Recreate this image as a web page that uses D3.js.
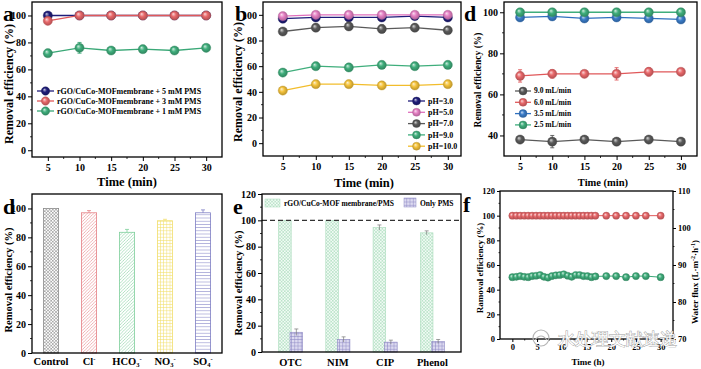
<!DOCTYPE html>
<html><head><meta charset="utf-8">
<script src="https://cdn.jsdelivr.net/npm/d3@7"></script>
<style>
body{margin:0;background:#fff}
svg{display:block}
text{font-family:"Liberation Serif","Times New Roman",serif;font-weight:bold}
</style>
</head><body>
<svg id="c" width="701" height="369"></svg>
<script>
// ---------- DATA ----------
const timeMin = [5, 10, 15, 20, 25, 30];
// panel a
const aNames = ["rGO/CuCo-MOFmembrane + 5 mM PMS", "rGO/CuCo-MOFmembrane + 3 mM PMS", "rGO/CuCo-MOFmembrane + 1 mM PMS"];
const a5mM = [100, 100, 100, 100, 100, 100];
const a3mM = [96, 100, 100, 100, 100, 100];
const a1mM = [72, 76, 74, 75, 74, 76];
const a1mMErr = [1, 4, 1, 1, 1, 1];
// panel b
const bNames = ["pH=3.0", "pH=5.0", "pH=7.0", "pH=9.0", "pH=10.0"];
const bPH3 = [97, 98, 98, 98, 99, 98];
const bPH5 = [99, 100, 100, 100, 100, 100];
const bPH7 = [87, 90, 91, 89, 90, 88];
const bPH7Err = [0.5, 1, 0.5, 3, 0.5, 0.5];
const bPH9 = [55, 60, 59, 61, 60, 61];
const bPH10 = [41, 46, 46, 45, 45, 46];
// panel d (top)
const cNames = ["9.0 mL/min", "6.0 mL/min", "3.5 mL/min", "2.5 mL/min"];
const c90 = [38, 37, 38, 37, 38, 37];
const c90Err = [1.5, 3, 1, 0.5, 1.5, 0.5];
const c60 = [69, 70, 70, 70, 71, 71];
const c60Err = [3, 2, 1.5, 3, 2, 1];
const c35 = [97.5, 98, 97, 97.5, 97, 96.5];
const c25 = [100, 100, 100, 100, 100, 100];
// panel d (bottom) bars
const ionCats = ["Control", "Cl-", "HCO3-", "NO3-", "SO4-"];
const ionVals = [100, 97, 83.5, 91.5, 97];
const ionErr = [0, 1.5, 2, 1, 2];
// panel e
const pollCats = ["OTC", "NIM", "CIP", "Phenol"];
const eNames = ["rGO/CuCo-MOF membrane/PMS", "Only PMS"];
const eMembrane = [100, 100, 94.5, 90.5];
const eMembraneErr = [0, 0, 2, 1.5];
const eOnly = [15, 9.5, 7.5, 8];
const eOnlyErr = [2.5, 2, 1.5, 1.5];
// panel f
const fTime = [0, 0.8, 1.6, 2.4, 3.2, 4, 4.8, 5.6, 6.4, 7.2, 8, 8.8, 9.6, 10.4, 11.2, 12, 12.8, 13.6, 14.4, 15.2, 16, 16.8, 19, 21, 23, 25, 27, 30];
const fRemoval = [100, 100, 100, 100, 100, 100, 100, 100, 100, 100, 100, 100, 100, 100, 100, 100, 100, 100, 100, 100, 100, 100, 100, 100, 100, 100, 100, 100];
const fFlux = [86.7, 86.8, 87.0, 86.8, 86.7, 87.0, 87.1, 87.3, 86.8, 86.6, 87.0, 87.2, 87.3, 87.5, 87.1, 86.8, 87.3, 87.3, 87.0, 87.0, 86.7, 86.9, 87.0, 87.0, 86.7, 87.0, 87.0, 86.7];
const watermark = "水处理文献速递";

// ---------- SETUP ----------
const svg = d3.select('#c');
const defs = svg.append('defs');
const FONT = '"Liberation Serif","Times New Roman",serif';

function ballGrad(id, color) {
  const g = defs.append('radialGradient').attr('id', id)
    .attr('cx', '50%').attr('cy', '50%').attr('r', '55%').attr('fx', '35%').attr('fy', '32%');
  g.append('stop').attr('offset', '0%').attr('stop-color', d3.interpolateRgb(color, '#fff')(0.75));
  g.append('stop').attr('offset', '45%').attr('stop-color', color);
  g.append('stop').attr('offset', '100%').attr('stop-color', d3.color(color).darker(0.9).formatHex());
  return 'url(#' + id + ')';
}

function pattern(id, color, kind, bg) {
  const s = 3.2;
  const p = defs.append('pattern').attr('id', id).attr('patternUnits', 'userSpaceOnUse')
    .attr('width', s).attr('height', s);
  p.append('rect').attr('width', s).attr('height', s).attr('fill', bg || '#fff');
  function ln(x1, y1, x2, y2) { p.append('line').attr('x1', x1).attr('y1', y1).attr('x2', x2).attr('y2', y2).attr('stroke', color).attr('stroke-width', 0.6); }
  if (kind === 'cross') { ln(0, 0, s, s); ln(0, s, s, 0); }
  if (kind === 'diag') { ln(0, s, s, 0); ln(-1, 1, 1, -1); ln(s - 1, s + 1, s + 1, s - 1); }
  if (kind === 'grid') { ln(0, 0.3, s, 0.3); ln(0.3, 0, 0.3, s); }
  if (kind === 'horiz') { ln(0, 0.3, s, 0.3); }
  return 'url(#' + id + ')';
}

function styleAxis(sel, fs) {
  sel.select('.domain').remove();
  sel.selectAll('line').attr('stroke', '#000').attr('stroke-width', 1);
  sel.selectAll('text').attr('font-size', fs).attr('font-family', FONT).attr('font-weight', 'bold').attr('fill', '#000');
}

function frame(L, R, T, B) {
  svg.append('rect').attr('x', L).attr('y', T).attr('width', R - L).attr('height', B - T)
    .attr('fill', 'none').attr('stroke', '#000').attr('stroke-width', 1.3);
}

function minorTicks(scale, vals, orient, pos, len) {
  const g = svg.append('g');
  vals.forEach(v => {
    const p = scale(v);
    if (orient === 'bottom') g.append('line').attr('x1', p).attr('x2', p).attr('y1', pos).attr('y2', pos + len);
    if (orient === 'left') g.append('line').attr('y1', p).attr('y2', p).attr('x1', pos).attr('x2', pos - len);
    if (orient === 'right') g.append('line').attr('y1', p).attr('y2', p).attr('x1', pos).attr('x2', pos + len);
  });
  g.selectAll('line').attr('stroke', '#000').attr('stroke-width', 0.8);
}

function midpoints(ticks) { const m = []; for (let i = 0; i < ticks.length - 1; i++) m.push((ticks[i] + ticks[i + 1]) / 2); return m; }

function yTitle(txt, x, y, fs) {
  svg.append('text').attr('transform', `translate(${x},${y}) rotate(-90)`).attr('text-anchor', 'middle')
    .attr('font-size', fs).attr('fill', '#000').text(txt);
}
function xTitle(txt, x, y, fs) {
  svg.append('text').attr('x', x).attr('y', y).attr('text-anchor', 'middle').attr('font-size', fs).attr('fill', '#000').text(txt);
}
function panelLetter(t, x, y) {
  svg.append('text').attr('x', x).attr('y', y).attr('font-size', 22).attr('fill', '#000').text(t);
}

function errBars(g, x, y, xs, vals, errs, color, cap) {
  xs.forEach((xv, i) => {
    const e = errs[i]; if (!e) return;
    const px = x(xv), y1 = y(vals[i] - e), y2 = y(vals[i] + e);
    g.append('line').attr('x1', px).attr('x2', px).attr('y1', y1).attr('y2', y2).attr('stroke', color).attr('stroke-width', 0.9);
    g.append('line').attr('x1', px - cap).attr('x2', px + cap).attr('y1', y1).attr('y2', y1).attr('stroke', color).attr('stroke-width', 0.9);
    g.append('line').attr('x1', px - cap).attr('x2', px + cap).attr('y1', y2).attr('y2', y2).attr('stroke', color).attr('stroke-width', 0.9);
  });
}

function linePanel(o) {
  const x = d3.scaleLinear().domain(o.xDomain).range([o.L, o.R]);
  const y = d3.scaleLinear().domain(o.yDomain).range([o.B, o.T]);
  svg.append('g').attr('transform', `translate(0,${o.B})`)
    .call(d3.axisBottom(x).tickValues(o.xTicks).tickSize(4).tickSizeOuter(0).tickPadding(3))
    .call(styleAxis, o.fs);
  svg.append('g').attr('transform', `translate(${o.L},0)`)
    .call(d3.axisLeft(y).tickValues(o.yTicks).tickSize(4).tickSizeOuter(0).tickPadding(2))
    .call(styleAxis, o.fs);
  minorTicks(x, midpoints(o.xTicks), 'bottom', o.B, 2);
  minorTicks(y, midpoints(o.yTicks), 'left', o.L, 2);
  frame(o.L, o.R, o.T, o.B);
  const g = svg.append('g');
  o.series.forEach((s, si) => {
    const fill = ballGrad(o.id + si, s.color);
    g.append('path').datum(s.values)
      .attr('d', d3.line().x((d, i) => x(o.xs[i])).y(d => y(d)))
      .attr('fill', 'none').attr('stroke', s.line || s.color).attr('stroke-width', 1.3);
    if (s.err) errBars(g, x, y, o.xs, s.values, s.err, s.line || s.color, 2);
    g.selectAll(null).data(s.values).enter().append('circle')
      .attr('cx', (d, i) => x(o.xs[i])).attr('cy', d => y(d)).attr('r', o.r)
      .attr('fill', fill).attr('stroke', d3.color(s.color).darker(0.5)).attr('stroke-width', 0.4);
    s.fillUrl = fill;
  });
  const lg = o.legend;
  o.series.forEach((ss, si) => {
    const yy = lg.y + si * lg.dy;
    svg.append('line').attr('x1', lg.x).attr('x2', lg.x + lg.len).attr('y1', yy).attr('y2', yy)
      .attr('stroke', ss.line || ss.color).attr('stroke-width', 1.3);
    svg.append('circle').attr('cx', lg.x + lg.len / 2).attr('cy', yy).attr('r', lg.r)
      .attr('fill', ss.fillUrl).attr('stroke', d3.color(ss.color).darker(0.5)).attr('stroke-width', 0.4);
    svg.append('text').attr('x', lg.x + lg.len + 3).attr('y', yy + lg.fs * 0.33).attr('font-size', lg.fs).attr('fill', '#000').text(ss.name);
  });
  return {x, y};
}

// ---------- PANEL a ----------
linePanel({
  id: 'a', L: 32, R: 222, T: 2, B: 157, xDomain: [2.5, 32.5], yDomain: [-5, 110],
  xTicks: timeMin, yTicks: [0, 20, 40, 60, 80, 100], fs: 10, r: 4.6, xs: timeMin,
  series: [
    {name: aNames[0], color: '#1f1d7a', values: a5mM},
    {name: aNames[1], color: '#e8686a', line: '#e0585a', values: a3mM},
    {name: aNames[2], color: '#3fae7c', line: '#3aa877', values: a1mM, err: a1mMErr}
  ],
  legend: {x: 37, y: 91, dy: 10, len: 17, r: 4.2, fs: 8}
});
panelLetter('a', 3, 21);
yTitle('Removal efficiency (%)', 13, 84, 12);
xTitle('Time (min)', 127, 186, 12.5);

// ---------- PANEL b ----------
linePanel({
  id: 'b', L: 263, R: 461, T: 2, B: 156, xDomain: [2, 32], yDomain: [-10, 110],
  xTicks: timeMin, yTicks: [0, 20, 40, 60, 80, 100], fs: 10, r: 4.6, xs: timeMin,
  series: [
    {name: bNames[0], color: '#1f1d7a', values: bPH3},
    {name: bNames[1], color: '#e580c4', line: '#e070bd', values: bPH5},
    {name: bNames[2], color: '#5a5a5a', values: bPH7, err: bPH7Err},
    {name: bNames[3], color: '#3fae7c', values: bPH9},
    {name: bNames[4], color: '#f4c23a', line: '#f2bd2c', values: bPH10}
  ],
  legend: {x: 408, y: 101, dy: 11.3, len: 17, r: 4, fs: 8}
});
panelLetter('b', 235, 21);
yTitle('Removal efficiency (%)', 242, 82, 12);
xTitle('Time (min)', 364, 187, 12.5);

// ---------- PANEL d (top) ----------
linePanel({
  id: 'c', L: 504, R: 697, T: 2, B: 156, xDomain: [2.5, 32.5], yDomain: [30, 105],
  xTicks: timeMin, yTicks: [40, 60, 80, 100], fs: 10, r: 4.6, xs: timeMin,
  series: [
    {name: cNames[0], color: '#5a5a5a', values: c90, err: c90Err},
    {name: cNames[1], color: '#e8686a', line: '#e0585a', values: c60, err: c60Err},
    {name: cNames[2], color: '#3a7cc9', line: '#2f70bf', values: c35},
    {name: cNames[3], color: '#3fae7c', values: c25}
  ],
  legend: {x: 515, y: 91, dy: 11.3, len: 16, r: 4, fs: 7.5}
});
panelLetter('d', 464, 21);
yTitle('Removal efficiency (%)', 481, 80, 9.5);
xTitle('Time (min)', 603, 186, 10.5);

// ---------- PANEL d (bottom) bars ----------
(function () {
  const L = 32, R = 222, T = 194, B = 353;
  const x = d3.scaleBand().domain(ionCats).range([L, R]).paddingInner(0.6).paddingOuter(0.3);
  const y = d3.scaleLinear().domain([0, 110]).range([B, T]);
  const cols = ['#8c8c8c', '#e57f84', '#7fcf9c', '#f2df6e', '#7e7ec4'];
  const kinds = ['cross', 'diag', 'diag', 'grid', 'horiz'];
  const fills = ionCats.map((c, i) => pattern('ion' + i, cols[i], kinds[i]));
  svg.append('g').attr('transform', `translate(${L},0)`)
    .call(d3.axisLeft(y).tickValues([0, 20, 40, 60, 80, 100]).tickSize(4).tickSizeOuter(0).tickPadding(2))
    .call(styleAxis, 10);
  minorTicks(y, [10, 30, 50, 70, 90], 'left', L, 2);
  const g = svg.append('g');
  g.selectAll('rect').data(ionVals).enter().append('rect')
    .attr('x', (d, i) => x(ionCats[i])).attr('width', x.bandwidth())
    .attr('y', d => y(d)).attr('height', d => B - y(d))
    .attr('fill', (d, i) => fills[i]).attr('stroke', (d, i) => cols[i]).attr('stroke-width', 0.8);
  ionCats.forEach((c, i) => {
    const e = ionErr[i]; if (!e) return;
    const px = x(c) + x.bandwidth() / 2;
    g.append('line').attr('x1', px).attr('x2', px).attr('y1', y(ionVals[i])).attr('y2', y(ionVals[i] + e)).attr('stroke', cols[i]).attr('stroke-width', 0.8);
    g.append('line').attr('x1', px - 2).attr('x2', px + 2).attr('y1', y(ionVals[i] + e)).attr('y2', y(ionVals[i] + e)).attr('stroke', cols[i]).attr('stroke-width', 0.8);
  });
  frame(L, R, T, B);
  ionCats.forEach(c => {
    const t = svg.append('text').attr('x', x(c) + x.bandwidth() / 2).attr('y', B + 12).attr('text-anchor', 'middle').attr('font-size', 10.5).attr('fill', '#000');
    const m = c.match(/^([A-Za-z]+)(\d?)(-?)$/);
    t.append('tspan').text(m[1]);
    if (m[2]) t.append('tspan').attr('font-size', 6.5).attr('dy', 2).text(m[2]);
    if (m[3]) t.append('tspan').attr('font-size', 6.5).attr('dy', m[2] ? -6 : -4).text('-');
  });
  panelLetter('d', 3, 214);
  yTitle('Removal efficiency (%)', 12, 280, 10.5);
})();

// ---------- PANEL e ----------
(function () {
  const L = 262, R = 461, T = 194, B = 352;
  const x = d3.scaleBand().domain(pollCats).range([L, R]).paddingInner(0.49).paddingOuter(0.35);
  const xs = d3.scaleBand().domain([0, 1]).range([0, x.bandwidth()]).paddingInner(-0.1);
  const y = d3.scaleLinear().domain([0, 120]).range([B, T]);
  const gFill = pattern('eg', '#a9dcbb', 'cross', '#f3fbf6');
  const pFill = pattern('ep', '#8d88c4', 'grid', '#dcdaf0');
  svg.append('g').attr('transform', `translate(0,${B})`)
    .call(d3.axisBottom(x).tickSize(0).tickPadding(7)).call(styleAxis, 10.5);
  svg.append('g').attr('transform', `translate(${L},0)`)
    .call(d3.axisLeft(y).tickValues([0, 20, 40, 60, 80, 100, 120]).tickSize(4).tickSizeOuter(0).tickPadding(2))
    .call(styleAxis, 10);
  minorTicks(y, [10, 30, 50, 70, 90, 110], 'left', L, 2);
  const g = svg.append('g');
  const sets = [[eMembrane, eMembraneErr, gFill, '#a9dcbb'], [eOnly, eOnlyErr, pFill, '#8d88c4']];
  sets.forEach((s, k) => {
    pollCats.forEach((c, i) => {
      const bx = x(c) + xs(k), bw = xs.bandwidth();
      g.append('rect').attr('x', bx).attr('width', bw).attr('y', y(s[0][i])).attr('height', B - y(s[0][i]))
        .attr('fill', s[2]).attr('stroke', s[3]).attr('stroke-width', 0.6);
      const e = s[1][i];
      if (e) {
        const px = bx + bw / 2;
        g.append('line').attr('x1', px).attr('x2', px).attr('y1', y(s[0][i] - e)).attr('y2', y(s[0][i] + e)).attr('stroke', '#777').attr('stroke-width', 0.7);
        g.append('line').attr('x1', px - 2).attr('x2', px + 2).attr('y1', y(s[0][i] + e)).attr('y2', y(s[0][i] + e)).attr('stroke', '#777').attr('stroke-width', 0.7);
      }
    });
  });
  svg.append('line').attr('x1', L).attr('x2', R).attr('y1', y(100)).attr('y2', y(100))
    .attr('stroke', '#333').attr('stroke-width', 1.1).attr('stroke-dasharray', '5,3');
  frame(L, R, T, B);
  svg.append('rect').attr('x', 265).attr('y', 199).attr('width', 15).attr('height', 8).attr('fill', gFill).attr('stroke', '#a9dcbb').attr('stroke-width', 0.5);
  svg.append('text').attr('x', 284).attr('y', 206).attr('font-size', 7.5).attr('fill', '#000').text(eNames[0]);
  svg.append('rect').attr('x', 404).attr('y', 198).attr('width', 12).attr('height', 9).attr('fill', pFill).attr('stroke', '#8d88c4').attr('stroke-width', 0.5);
  svg.append('text').attr('x', 420).attr('y', 206).attr('font-size', 7.5).attr('fill', '#000').text(eNames[1]);
  panelLetter('e', 233, 214);
  yTitle('Removal efficiency (%)', 242, 283, 10.5);
})();

// ---------- PANEL f ----------
(function () {
  const L = 500, R = 673, T = 191, B = 339;
  const x = d3.scaleLinear().domain([-2.5, 32.5]).range([L, R]);
  const y = d3.scaleLinear().domain([0, 120]).range([B, T]);
  const y2 = d3.scaleLinear().domain([70, 110]).range([B, T]);
  svg.append('g').attr('transform', `translate(0,${B})`)
    .call(d3.axisBottom(x).tickValues([0, 5, 10, 15, 20, 25, 30]).tickSize(3).tickSizeOuter(0).tickPadding(2))
    .call(styleAxis, 8.5);
  minorTicks(x, [2.5, 7.5, 12.5, 17.5, 22.5, 27.5], 'bottom', B, 1.5);
  svg.append('g').attr('transform', `translate(${L},0)`)
    .call(d3.axisLeft(y).tickValues([0, 20, 40, 60, 80, 100, 120]).tickSize(3).tickSizeOuter(0).tickPadding(2))
    .call(styleAxis, 8.5);
  minorTicks(y, [10, 30, 50, 70, 90, 110], 'left', L, 1.5);
  svg.append('g').attr('transform', `translate(${R},0)`)
    .call(d3.axisRight(y2).tickValues([70, 80, 90, 100, 110]).tickSize(3).tickSizeOuter(0).tickPadding(2))
    .call(styleAxis, 8.5);
  minorTicks(y2, [75, 85, 95, 105], 'right', R, 1.5);
  frame(L, R, T, B);
  const rF = ballGrad('fr', '#e8686a'), gF = ballGrad('fg', '#3fae7c');
  const g = svg.append('g');
  [[fRemoval, y, '#e0585a', rF, '#e8686a'], [fFlux, y2, '#3aa877', gF, '#3fae7c']].forEach(s => {
    g.append('path').datum(s[0]).attr('d', d3.line().x((d, i) => x(fTime[i])).y(d => s[1](d)))
      .attr('fill', 'none').attr('stroke', s[2]).attr('stroke-width', 1);
    g.selectAll(null).data(s[0]).enter().append('circle')
      .attr('cx', (d, i) => x(fTime[i])).attr('cy', d => s[1](d)).attr('r', 3.6)
      .attr('fill', s[3]).attr('stroke', d3.color(s[4]).darker(0.5)).attr('stroke-width', 0.4);
  });
  panelLetter('f', 463, 212);
  yTitle('Ramoval efficiency (%)', 483, 268, 9);
  const wt = svg.append('text').attr('transform', 'translate(698,282) rotate(-90)').attr('text-anchor', 'middle').attr('font-size', 9).attr('fill', '#000');
  wt.append('tspan').text('Water flux (L·m');
  wt.append('tspan').attr('font-size', 6).attr('dy', -3).text('-2');
  wt.append('tspan').attr('dy', 3).text('·h');
  wt.append('tspan').attr('font-size', 6).attr('dy', -3).text('-1');
  wt.append('tspan').attr('dy', 3).text(')');
  xTitle('Time (h)', 588, 365, 9);
  // watermark overlay
  const wm = svg.append('g');
  wm.append('circle').attr('cx', 541).attr('cy', 338).attr('r', 8).attr('fill', 'none').attr('stroke', '#b5b5b5').attr('stroke-width', 1.2);
  wm.append('path').attr('d', 'M535,340 q6,-8 12,0').attr('fill', 'none').attr('stroke', '#b5b5b5').attr('stroke-width', 1.2);
  wm.append('text').attr('x', 558).attr('y', 345).attr('font-size', 17)
    .attr('font-family', '"Noto Sans CJK SC",sans-serif').style('font-weight', 'normal')
    .style('fill', '#ffffff').style('stroke', '#9a9a9a').style('stroke-width', '0.9px').style('paint-order', 'stroke')
    .attr('opacity', 0.95)
    .text(watermark);
})();
</script>
</body></html>
